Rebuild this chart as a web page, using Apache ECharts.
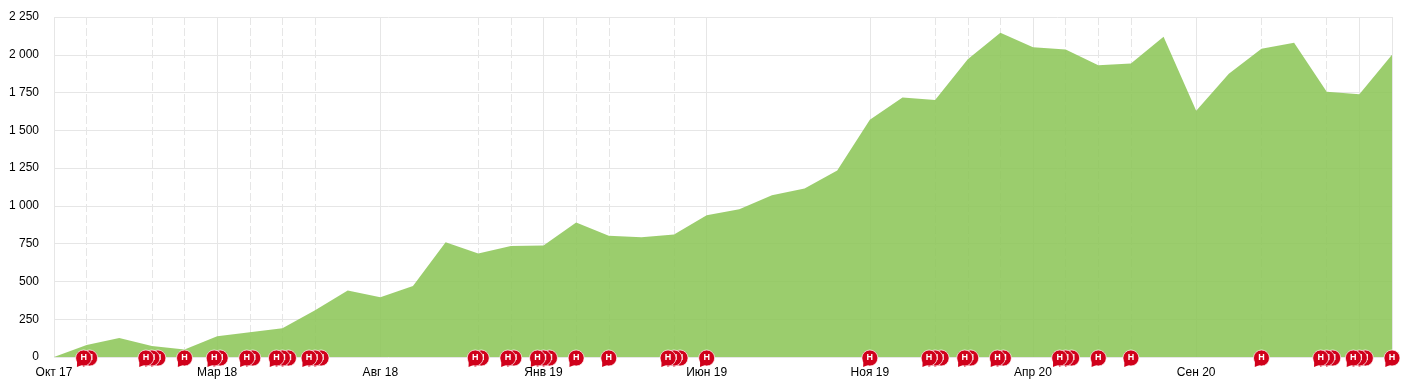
<!DOCTYPE html>
<html>
<head>
<meta charset="utf-8">
<style>html,body{margin:0;padding:0;background:#fff}#c{width:1411px;height:388px}</style>
<script src="https://cdn.jsdelivr.net/npm/echarts@6/dist/echarts.min.js"></script>
</head>
<body>
<div id="c"></div>
<script>
var categories = ['Окт 17','Ноя 17','Дек 17','Янв 18','Фев 18','Мар 18','Апр 18','Май 18','Июн 18','Июл 18','Авг 18','Сен 18','Окт 18','Ноя 18','Дек 18','Янв 19','Фев 19','Мар 19','Апр 19','Май 19','Июн 19','Июл 19','Авг 19','Сен 19','Окт 19','Ноя 19','Дек 19','Янв 20','Фев 20','Мар 20','Апр 20','Май 20','Июн 20','Июл 20','Авг 20','Сен 20','Окт 20','Ноя 20','Дек 20','Янв 21','Фев 21','Мар 21'];
var values = [0,80,125,72,50,138,163,190,310,440,395,470,760,685,735,738,890,803,792,810,938,978,1070,1115,1235,1570,1718,1700,1970,2145,2050,2035,1930,1942,2120,1630,1875,2040,2080,1755,1738,2000];
var flagMonths = [1,3,4,5,6,7,8,13,14,15,16,17,19,20,25,27,28,29,31,32,33,37,39,40,41];
var flagCounts = [2,3,1,2,2,3,3,2,2,3,1,1,3,1,1,3,2,2,3,1,1,1,3,3,1];
var dashedMonths = [1,3,4,6,7,8,13,14,16,17,19,27,28,29,31,32,33,37,39];

var bubbles = [];
flagMonths.forEach(function (m, i) {
  var n = flagCounts[i];
  for (var k = n - 1; k >= 0; k--) {
    bubbles.push([m, k - (n - 1) / 2]);
  }
});

var gridCol = '#e6e6e6';
var red = '#d0011b';
var chart = echarts.init(document.getElementById('c'));
chart.setOption({
  animation: false,
  grid: {left: 54, right: 19, top: 17, bottom: 31},
  textStyle: {fontFamily: '"Liberation Sans", Arial, sans-serif'},
  xAxis: {
    type: 'category', data: categories, boundaryGap: false,
    axisLine: {show: false}, axisTick: {show: false},
    axisLabel: {interval: 4, color: '#000', fontSize: 12, margin: 10, showMaxLabel: false,
                fontFamily: '"Liberation Sans", Arial, sans-serif'},
    splitLine: {show: true, lineStyle: {color: gridCol, width: 1},
                interval: function (i) { return i % 5 === 0 || i === categories.length - 1; }}
  },
  yAxis: {
    type: 'value', min: 0, max: 2250, interval: 250,
    axisLine: {show: false}, axisTick: {show: false},
    axisLabel: {color: '#000', fontSize: 12, margin: 15, padding: [2, 0, 0, 0],
                fontFamily: '"Liberation Sans", Arial, sans-serif',
                formatter: function (v) { return String(v).replace(/\B(?=(\d{3})+$)/g, ' '); }},
    splitLine: {show: true, lineStyle: {color: gridCol, width: 1}}
  },
  series: [
    {
      type: 'line', data: [], z: 1, symbol: 'none', silent: true,
      markLine: {
        silent: true, symbol: 'none', label: {show: false}, animation: false, z: 1,
        lineStyle: {color: gridCol, type: [8, 3], width: 1},
        data: dashedMonths.map(function (m) {
          return [{xAxis: categories[m], yAxis: 2250}, {xAxis: categories[m], yAxis: 0}];
        })
      }
    },
    {
      type: 'line', data: values, z: 3, symbol: 'none', silent: true,
      lineStyle: {width: 0}, itemStyle: {color: '#89c454'},
      areaStyle: {color: '#89c454', opacity: 0.85}
    },
    {
      type: 'custom', z: 5, clip: false, silent: true,
      encode: {x: 0, y: 1},
      data: bubbles,
      renderItem: function (params, api) {
        var p = api.coord([api.value(0), 0]);
        var cx = p[0] + api.value(1) * 6;
        var cy = p[1] + 1;
        return {
          type: 'group',
          children: [
            {type: 'circle', shape: {cx: cx, cy: cy, r: 8},
             style: {fill: red, stroke: '#fff', lineWidth: 0.7}},
            {type: 'polygon', shape: {points: [[cx - 6.5, cy + 3], [cx - 6.7, cy + 9], [cx - 0.5, cy + 6.5]]},
             style: {fill: red}},
            {type: 'text', style: {x: cx, y: cy, text: 'Н', fill: '#fff', align: 'center', verticalAlign: 'middle',
             font: 'bold 9px "Liberation Sans", Arial, sans-serif'}}
          ]
        };
      }
    }
  ]
});
</script>
</body>
</html>
